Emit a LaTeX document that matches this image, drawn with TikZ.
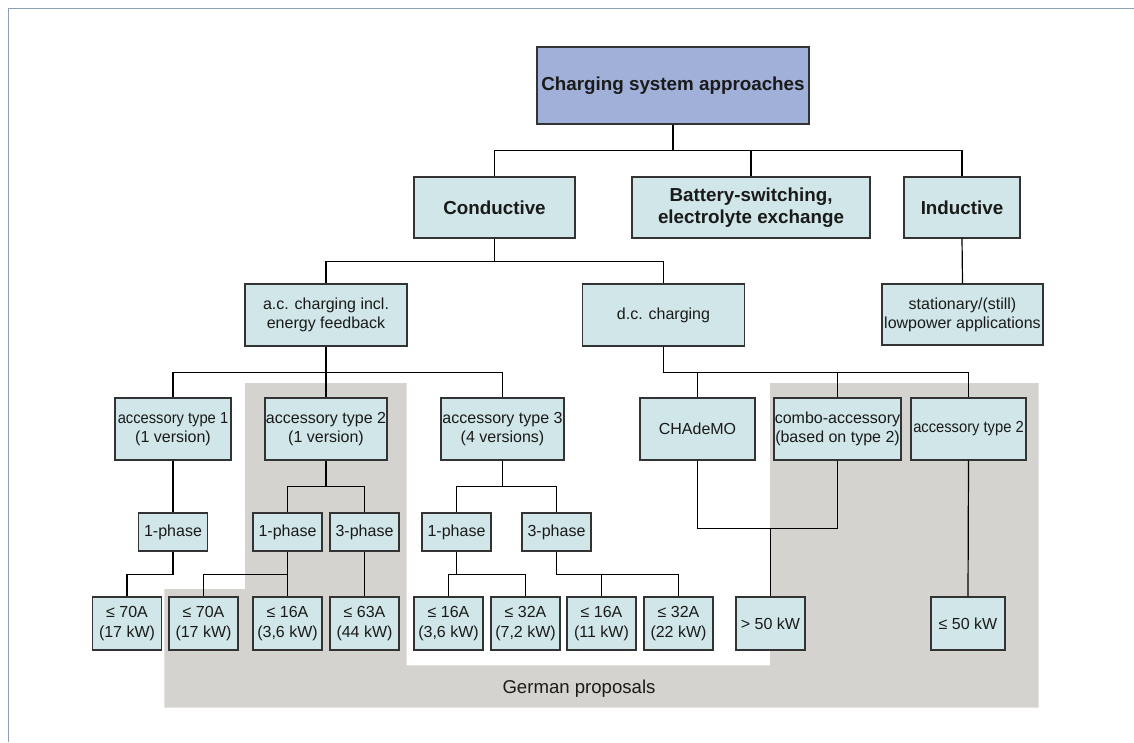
\documentclass[tikz,border=0pt]{standalone}
\usepackage{fontspec}
\setmainfont{Liberation Sans}
\usepackage{graphicx}
\definecolor{topfill}{HTML}{A0B0D8}
\definecolor{boxfill}{HTML}{D0E6E8}
\definecolor{boxline}{HTML}{333333}
\definecolor{greyreg}{HTML}{D5D3CF}
\definecolor{framecol}{HTML}{8CA0B8}
\definecolor{txt}{HTML}{1A1A1A}
\tikzset{
  box/.style={draw=boxline, fill=boxfill, line width=1.3pt, inner sep=0pt, align=center, text=txt,
    font=\fontsize{16}{19}\selectfont},
  bbox/.style={box, font=\bfseries\fontsize{18.8}{21.7}\selectfont},
  leaf/.style={box, minimum width=69pt, minimum height=53pt, font=\fontsize{16}{20}\selectfont},
  phase/.style={box, minimum width=69pt, minimum height=38pt},
  conn/.style={draw=black, line width=1.2pt},
}
\begin{document}
\begin{tikzpicture}[x=1pt,y=-1pt]
\useasboundingbox (0,0) rectangle (1134,742);
% frame
\draw[framecol, line width=1.5pt] (8.3,742) -- (8.3,8.3) -- (1134,8.3);
% German proposals region
\fill[greyreg] (245,383) -- (406.7,383) -- (406.7,665.3) -- (770,665.3) -- (770,383) -- (1038.7,383)
  -- (1038.7,707.7) -- (164.3,707.7) -- (164.3,589) -- (245,589) -- cycle;
\node[text=txt, font=\fontsize{18.6}{21}\selectfont] (gp) at (579,688.5) {German proposals};

% level 0
\node[bbox, fill=topfill, minimum width=272pt, minimum height=77pt] (top) at (673,85.5) {Charging system approaches};
% level 1
\node[bbox, minimum width=161pt, minimum height=61pt] (cond) at (494.5,207.5) {Conductive};
\node[bbox, minimum width=238pt, minimum height=61pt] (batt) at (751,207.5) {Battery-switching,\\electrolyte exchange};
\node[bbox, minimum width=116pt, minimum height=61pt] (ind) at (962,207.5) {Inductive};
% level 2
\node[box, minimum width=162pt, minimum height=62pt] (ac) at (326,315) {a.c. charging incl.\\energy feedback};
\node[box, minimum width=162pt, minimum height=62pt] (dc) at (663.5,315) {d.c. charging};
\node[box, minimum width=161pt, minimum height=61pt] (stat) at (962.5,314.5) {stationary/(still)\\lowpower applications};
% level 3
\node[box, minimum width=116pt, minimum height=62pt, font=\fontsize{16}{18.3}\selectfont] (acc1) at (173,429) {\scalebox{0.92}[1]{accessory type 1}\\(1 version)};
\node[box, minimum width=122pt, minimum height=62pt, font=\fontsize{16}{18.3}\selectfont] (acc2) at (326,429) {accessory type 2\\(1 version)};
\node[box, minimum width=123pt, minimum height=62pt, font=\fontsize{16}{18.3}\selectfont] (acc3) at (502.5,429) {accessory type 3\\(4 versions)};
\node[box, minimum width=115pt, minimum height=62pt] (cha) at (697.5,429) {CHAdeMO};
\node[box, minimum width=127pt, minimum height=62pt, font=\fontsize{16}{18.3}\selectfont] (combo) at (837.5,429) {combo-accessory\\(based on type 2)};
\node[box, minimum width=115pt, minimum height=62pt] (acct) at (968.5,429) {\scalebox{0.92}[1]{accessory type 2}};
% level 4
\node[phase] (a1p) at (173,532) {1-phase};
\node[phase] (a2p1) at (287.5,532) {1-phase};
\node[phase] (a2p3) at (364.5,532) {3-phase};
\node[phase] (a3p1) at (456.5,532) {1-phase};
\node[phase] (a3p3) at (556.5,532) {3-phase};
% level 5
\node[leaf] (l1) at (127,623.5) {≤ 70A\\(17 kW)};
\node[leaf] (l2) at (203.5,623.5) {≤ 70A\\(17 kW)};
\node[leaf] (l3) at (287.5,623.5) {≤ 16A\\(3,6 kW)};
\node[leaf] (l4) at (364.5,623.5) {≤ 63A\\(44 kW)};
\node[leaf] (l5) at (448.5,623.5) {≤ 16A\\(3,6 kW)};
\node[leaf] (l6) at (525.5,623.5) {≤ 32A\\(7,2 kW)};
\node[leaf] (l7) at (601.5,623.5) {≤ 16A\\(11 kW)};
\node[leaf] (l8) at (678.5,623.5) {≤ 32A\\(22 kW)};
\node[leaf] (l9) at (770.5,623.5) {> 50 kW};
\node[leaf, minimum width=74pt] (l10) at (968,623.5) {≤ 50 kW};

% connectors
\draw[conn] (top.south) -- ++(0,26) -| (cond.north);
\draw[conn] (top.south) -- ++(0,26) -| (batt.north);
\draw[conn] (top.south) -- ++(0,26) -| (ind.north);
\draw[conn] (ind.south) -- (stat.north);
\draw[conn] (cond.south) -- ++(0,23) -| (ac.north);
\draw[conn] (cond.south) -- ++(0,23) -| (dc.north);
\draw[conn] (ac.south) -- ++(0,26) -| (acc1.north);
\draw[conn] (ac.south) -- (acc2.north);
\draw[conn] (ac.south) -- ++(0,26) -| (acc3.north);
\draw[conn] (dc.south) -- ++(0,26) -| (cha.north);
\draw[conn] (dc.south) -- ++(0,26) -| (combo.north);
\draw[conn] (dc.south) -- ++(0,26) -| (acct.north);
\draw[conn] (acc1.south) -- (a1p.north);
\draw[conn] (acc2.south) -- ++(0,26) -| (a2p1.north);
\draw[conn] (acc2.south) -- ++(0,26) -| (a2p3.north);
\draw[conn] (acc3.south) -- ++(0,26) -| (a3p1.north);
\draw[conn] (acc3.south) -- ++(0,26) -| (a3p3.north);
\draw[conn] (a1p.south) -- ++(0,22.5) -| (l1.north);
\draw[conn] (a2p1.south) -- (l3.north);
\draw[conn] (a2p1.south) -- ++(0,22.5) -| (l2.north);
\draw[conn] (a2p3.south) -- (l4.north);
\draw[conn] (a3p1.south) -- ++(0,22.5) -| (l5.north);
\draw[conn] (a3p1.south) -- ++(0,22.5) -| (l6.north);
\draw[conn] (a3p3.south) -- ++(0,22.5) -| (l7.north);
\draw[conn] (a3p3.south) -- ++(0,22.5) -| (l8.north);
\draw[conn] (cha.south) -- ++(0,68) -| (combo.south);
\coordinate (j9) at (770.5,528);
\draw[conn] (j9) -- (l9.north);
\draw[conn] (acct.south) -- (l10.north);
\end{tikzpicture}
\end{document}
